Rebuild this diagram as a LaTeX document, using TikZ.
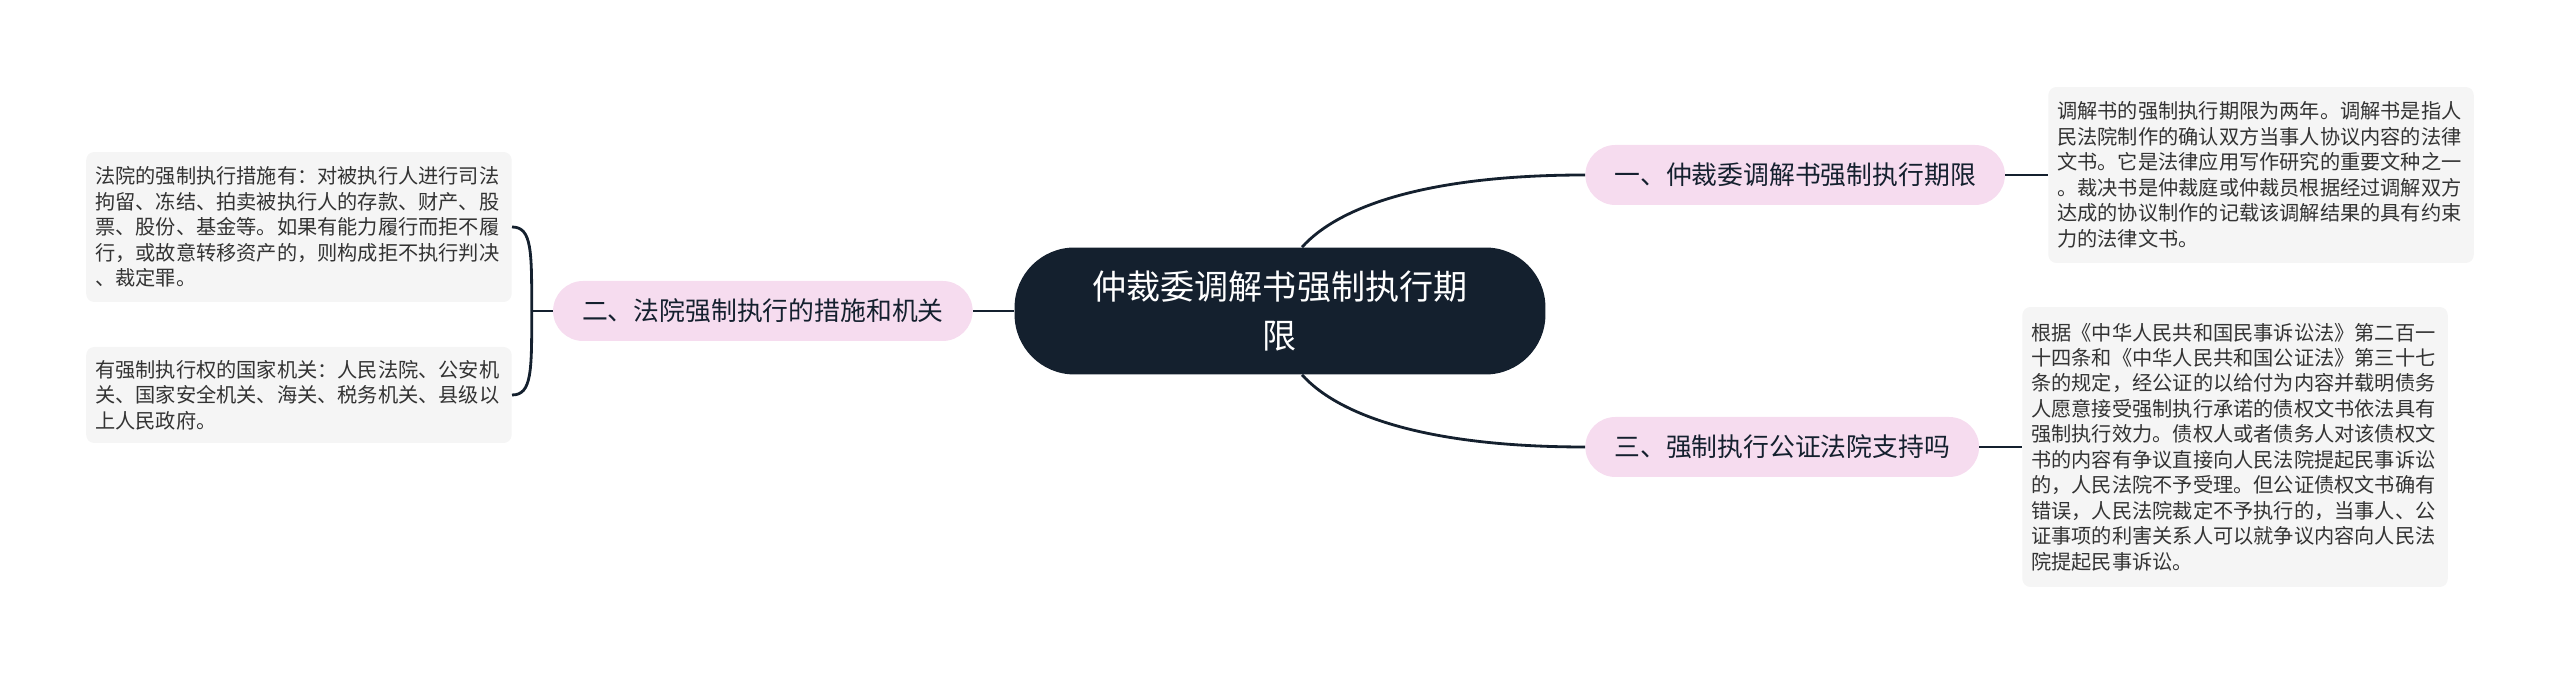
\documentclass[tikz,border=0pt]{standalone}
\usepackage{fontspec}
\setmainfont{Noto Sans CJK SC}
\usepackage{tikz}
\usetikzlibrary{positioning, calc}
\definecolor{rootbg}{HTML}{14202E}
\definecolor{topicbg}{HTML}{F6DCEF}
\definecolor{leafbg}{HTML}{F5F5F5}
\definecolor{leaftext}{HTML}{333333}

\begin{document}
\begin{tikzpicture}[x=0.02cm, y=0.02cm,
    link/.style={draw=rootbg, line width=1.6pt},
    rootnode/.style={fill=rootbg, text=white, rounded corners=1.2cm, minimum width=10.62cm, minimum height=2.54cm, align=center, font=\fontsize{19.4}{27.8}\selectfont},
    topic/.style={fill=topicbg, text=rootbg, rounded corners=0.6cm, minimum height=1.2cm, inner xsep=0.58cm, font=\fontsize{14.7}{18}\selectfont},
    leaf/.style={fill=leafbg, text=leaftext, rounded corners=0.16cm, text width=8.15cm, inner xsep=0.18cm, align=left, font=\fontsize{11.5}{14.5}\selectfont}]
                \useasboundingbox (0,0) rectangle (2560,675);
                \node[rootnode] (root) at (1280,364) {仲裁委调解书强制执行期\\限};
                \node[topic, anchor=west] (t1) at (1585,500) {一、仲裁委调解书强制执行期限};
                \node[topic, anchor=west] (t3) at (1585,228) {三、强制执行公证法院支持吗};
                \node[topic, anchor=east] (t2) at (973,364) {二、法院强制执行的措施和机关};
                \node[leaf, anchor=west, minimum height=3.52cm] (d1) at (2048,500) {调解书的强制执行期限为两年。调解书是指人\\民法院制作的确认双方当事人协议内容的法律\\文书。它是法律应用写作研究的重要文种之一\\。裁决书是仲裁庭或仲裁员根据经过调解双方\\达成的协议制作的记载该调解结果的具有约束\\力的法律文书。};
                \node[leaf, anchor=west, minimum height=5.6cm] (d3) at (2022,228) {根据《中华人民共和国民事诉讼法》第二百一\\十四条和《中华人民共和国公证法》第三十七\\条的规定，经公证的以给付为内容并载明债务\\人愿意接受强制执行承诺的债权文书依法具有\\强制执行效力。债权人或者债务人对该债权文\\书的内容有争议直接向人民法院提起民事诉讼\\的，人民法院不予受理。但公证债权文书确有\\错误，人民法院裁定不予执行的，当事人、公\\证事项的利害关系人可以就争议内容向人民法\\院提起民事诉讼。};
                \node[leaf, anchor=east, minimum height=3cm] (d2a) at (512,448) {法院的强制执行措施有：对被执行人进行司法\\拘留、冻结、拍卖被执行人的存款、财产、股\\票、股份、基金等。如果有能力履行而拒不履\\行，或故意转移资产的，则构成拒不执行判决\\、裁定罪。};
                \node[leaf, anchor=east, minimum height=1.92cm] (d2b) at (512,280) {有强制执行权的国家机关：人民法院、公安机\\关、国家安全机关、海关、税务机关、县级以\\上人民政府。};
                % root to topics
                \draw[link] ($(root.north)+(22,0)$) .. controls +(38,42) and +(-155,0) .. (t1.west);
                \draw[link] ($(root.south)+(22,0)$) .. controls +(38,-42) and +(-155,0) .. (t3.west);
                \draw[link] (root.west) -- (t2.east);
                % topics to details
                \draw[link] (t1.east) -- (d1.west);
                \draw[link] (t3.east) -- (d3.west);
                \draw[link] (t2.west) -- ++(-21,0) coordinate (fork);
                \draw[link] (fork) .. controls +(0,60) and +(20,0) .. (d2a.east);
                \draw[link] (fork) .. controls +(0,-60) and +(20,0) .. (d2b.east);
            \end{tikzpicture}
\end{document}
